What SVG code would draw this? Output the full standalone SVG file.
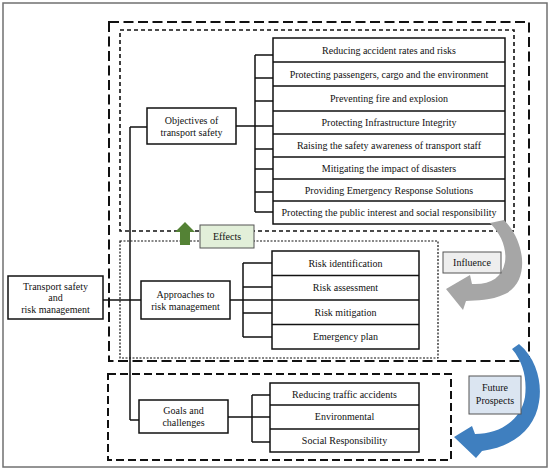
<svg xmlns="http://www.w3.org/2000/svg" width="550" height="470" viewBox="0 0 550 470">
<style>
text{font-family:"Liberation Serif","Times New Roman",serif;font-size:10px;fill:#111;text-anchor:middle}
.box{fill:#fff;stroke:#111;stroke-width:1.5}
.ln{fill:none;stroke:#111;stroke-width:1.5}
</style>
<rect x="0" y="0" width="550" height="470" fill="#fff"/>
<rect x="3" y="3" width="544" height="464" fill="none" stroke="#707070" stroke-width="1.5"/>
<g id="regions">
<rect x="109" y="22" width="420" height="339" fill="none" stroke="#111" stroke-width="2" stroke-dasharray="10,4.5"/>
<rect x="120" y="30" width="394" height="201" fill="none" stroke="#111" stroke-width="1.6" stroke-dasharray="4,3"/>
<rect x="120" y="241" width="318" height="117" fill="none" stroke="#111" stroke-width="1.2" stroke-dasharray="2,1.5"/>
<rect x="108" y="374" width="343" height="86" fill="none" stroke="#111" stroke-width="2" stroke-dasharray="8,4"/>
</g>
<g id="connectors">
<path class="ln" d="M130 127 V420 M130 127 H147 M130 420 H139"/>
<path class="ln" d="M103 300 H141"/>
<path class="ln" d="M236 126 H255 M255 55 V212 M255 55 H273 M255 78 H273 M255 101 H273 M255 126 H273 M255 149 H273 M255 169 H273 M255 192 H273 M255 212 H273"/>
<path class="ln" d="M230 300 H272 M243 263 V337 M243 263 H272 M243 287 H272 M243 313 H272 M243 337 H272"/>
<path class="ln" d="M228 417 H270 M252 395 V442 M252 395 H270 M252 442 H270"/>
</g>
<g id="root">
<rect class="box" x="8" y="276" width="95" height="43"/>
<text x="55.5" y="290">Transport safety</text>
<text x="55.5" y="301">and</text>
<text x="55.5" y="313">risk management</text>
</g>
<g id="objectives">
<rect class="box" x="147" y="108" width="89" height="36"/>
<text x="191.5" y="124">Objectives of</text>
<text x="191.5" y="136">transport safety</text>
</g>
<g id="objectives-list">
<rect class="box" x="273" y="38" width="232" height="186"/>
<path class="ln" d="M273 62 H505 M273 86 H505 M273 111 H505 M273 134 H505 M273 157 H505 M273 179 H505 M273 201 H505"/>
<text x="389" y="54">Reducing accident rates and risks</text>
<text x="389" y="78">Protecting passengers, cargo and the environment</text>
<text x="389" y="102">Preventing fire and explosion</text>
<text x="389" y="126">Protecting Infrastructure Integrity</text>
<text x="389" y="149">Raising the safety awareness of transport staff</text>
<text x="389" y="172">Mitigating the impact of disasters</text>
<text x="389" y="194">Providing Emergency Response Solutions</text>
<text x="389" y="216">Protecting the public interest and social responsibility</text>
</g>
<g id="approaches">
<rect class="box" x="141" y="281" width="89" height="38"/>
<text x="185.5" y="298">Approaches to</text>
<text x="185.5" y="310">risk management</text>
</g>
<g id="approaches-list">
<rect class="box" x="272" y="251" width="147" height="98"/>
<path class="ln" d="M272 275.5 H419 M272 300 H419 M272 324.5 H419"/>
<text x="345.5" y="267">Risk identification</text>
<text x="345.5" y="291">Risk assessment</text>
<text x="345.5" y="316">Risk mitigation</text>
<text x="345.5" y="340">Emergency plan</text>
</g>
<g id="goals">
<rect class="box" x="139" y="400" width="89" height="33"/>
<text x="183.5" y="414">Goals and</text>
<text x="183.5" y="426">challenges</text>
</g>
<g id="goals-list">
<rect class="box" x="270" y="383" width="149" height="69"/>
<path class="ln" d="M270 405 H419 M270 429 H419"/>
<text x="344.5" y="398">Reducing traffic accidents</text>
<text x="344.5" y="420">Environmental</text>
<text x="344.5" y="444">Social Responsibility</text>
</g>
<g id="effects">
<path d="M185 222 L195 232 H190 V245 H180 V232 H175 Z" fill="#548235"/>
<rect x="200" y="225" width="54" height="23" fill="#e2efd9" stroke="#555" stroke-width="1"/>
<text x="227" y="240">Effects</text>
</g>
<g id="influence">
<path d="M504 220 C526 242 530 282 505 294 C490 301 477 300 466 301 L463 310 L446 289 L470 275 L472 284 C490 285 502 278 505 262 C507 248 501 234 490 223 Z" fill="#a6a6a6"/>
<rect x="443" y="252" width="58" height="21" fill="#eeeeee" stroke="#555" stroke-width="1"/>
<text x="472" y="266">Influence</text>
</g>
<g id="future">
<path d="M519 344 C538 360 542 385 539 402 C535 428 515 446 482 451 L476 458 L454 437 L472 426 L475 434 C500 434 521 420 525 397 C527 380 524 363 512 349 Z" fill="#3f7fbf"/>
<rect x="469" y="376" width="52" height="38" fill="#dbe5f1" stroke="#555" stroke-width="1"/>
<text x="495" y="391">Future</text>
<text x="495" y="404">Prospects</text>
</g>
</svg>
